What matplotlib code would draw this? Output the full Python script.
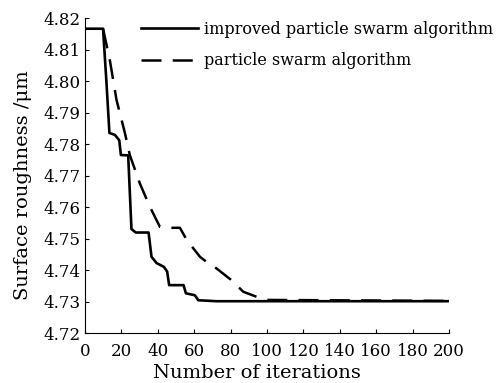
import matplotlib
matplotlib.use("Agg")
import matplotlib.pyplot as plt

# improved particle swarm algorithm
ipso_x = [0, 10, 11.9, 13.5, 16.5, 18.9, 19.8, 23.8, 25.6, 28, 35, 36.6, 39.4, 43.4, 45.2, 46.3, 54.2, 55.5, 60.4, 62.3, 72.3, 200]
ipso_y = [4.8166, 4.8166, 4.7993, 4.7835, 4.7829, 4.7812, 4.7765, 4.7764, 4.7530, 4.7519, 4.7519, 4.7442, 4.7422, 4.7410, 4.7395, 4.7352, 4.7352, 4.7326, 4.7320, 4.7304, 4.7301, 4.7301]

# particle swarm algorithm
pso_x = [10, 13.7, 17.4, 22, 24.7, 30.2, 35.7, 41.2, 43.9, 52.2, 56, 63.2, 66.8, 72.3, 80, 87, 94.3, 100.7, 200]
pso_y = [4.8166, 4.8067, 4.7940, 4.7835, 4.7765, 4.7675, 4.7601, 4.7537, 4.7534, 4.7534, 4.7495, 4.7442, 4.7426, 4.7405, 4.7370, 4.7331, 4.7315, 4.7305, 4.7302]

xticks = [0, 20, 40, 60, 80, 100, 120, 140, 160, 180, 200]
yticks = [4.72, 4.73, 4.74, 4.75, 4.76, 4.77, 4.78, 4.79, 4.80, 4.81, 4.82]
ytick_labels = ['4.72', '4.73', '4.74', '4.75', '4.76', '4.77', '4.78', '4.79', '4.80', '4.81', '4.82']

plt.rcParams['font.family'] = ['DejaVu Serif']
fig = plt.figure(figsize=(4.99, 3.83), dpi=100)
ax = fig.add_axes([0.170, 0.1305, 0.730, 0.8225])

ax.plot(ipso_x, ipso_y, color='black', lw=1.9, label='improved particle swarm algorithm')
ax.plot(pso_x, pso_y, color='black', lw=1.8, dashes=(8, 4.5), label='particle swarm algorithm')

ax.set_xlim(0, 200)
ax.set_ylim(4.72, 4.82)
ax.set_xticks(xticks)
ax.set_yticks(yticks)
ax.set_yticklabels(ytick_labels)
ax.tick_params(direction='in', length=3, width=0.8, labelsize=12)
ax.tick_params(axis='x', pad=7)
ax.tick_params(axis='y', pad=3)
for s in ['top', 'right']:
    ax.spines[s].set_visible(False)
for s in ['left', 'bottom']:
    ax.spines[s].set_linewidth(0.8)

ax.set_xlabel('Number of iterations', fontsize=14)
ax.set_ylabel('Surface roughness /μm', fontsize=14)
ax.xaxis.set_label_coords(0.473, -0.098)
ax.yaxis.set_label_coords(-0.146, 0.47)

ax.legend(loc='upper right', bbox_to_anchor=(1.16, 1.036), frameon=False, fontsize=11.5,
          handlelength=3.6, labelspacing=0.9, handletextpad=0.35)

fig.savefig('out.png', dpi=100)
